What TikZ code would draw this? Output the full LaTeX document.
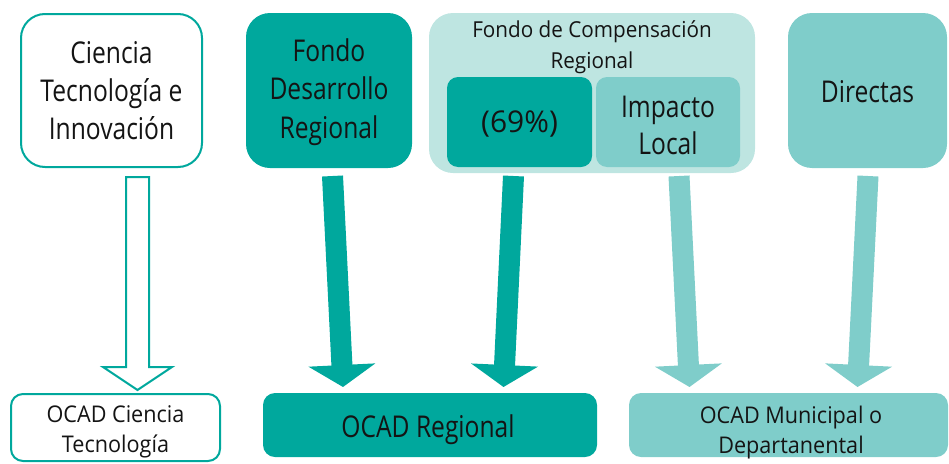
\documentclass[tikz,border=0pt]{standalone}
\usepackage{fontspec}
\usetikzlibrary{arrows.meta}
\newfontfamily\df[FakeStretch=0.82]{Open Sans}
\newfontfamily\dfs[FakeStretch=0.94]{Open Sans}
\newfontfamily\dfn{Open Sans}
\definecolor{teal1}{RGB}{0,168,157}
\definecolor{teal2}{RGB}{127,205,202}
\definecolor{teal3}{RGB}{190,229,225}
\definecolor{txt}{RGB}{20,20,20}
\begin{document}
\begin{tikzpicture}[x=1pt,y=-1pt,
  box/.style={rounded corners=24pt, inner sep=0pt, align=center, text=txt, font=\df\fontsize{30}{38}\selectfont},
  lowbox/.style={rounded corners=12pt, inner sep=0pt, align=center, text=txt},
  lbl/.style={align=center, text=txt, inner sep=0pt},
  bigarrow/.style={line width=21pt, -{Triangle[width=66pt,length=22pt]}},
  hollow/.style={draw=teal1, line width=2pt, fill=white, line join=miter}
]
\useasboundingbox (0,0) rectangle (949,463);
% top boxes
\node[box, draw=teal1, line width=2pt, fill=white, minimum width=181pt, minimum height=153pt] (cti) at (111.5,90.5) {Ciencia\\Tecnología e\\Innovación};
\node[box, fill=teal1, minimum width=166pt, minimum height=155pt] (fdr) at (329,90.5) {};
\node[lbl, font=\df\fontsize{30}{38.5}\selectfont] (fdrt) at (329,92) {Fondo\\Desarrollo\\Regional};
\node[box, fill=teal3, minimum width=326pt, minimum height=160pt] (fcr) at (592,93) {};
\node[lbl, font=\dfs\fontsize{22}{31}\selectfont] (fcrt) at (592,47) {Fondo de Compensación\\Regional};
\node[box, rounded corners=11pt, fill=teal1, minimum width=145pt, minimum height=90pt] (p69) at (519.5,122) {};
\node[lbl, font=\dfn\fontsize{30}{38}\selectfont] (p69t) at (519.5,124) {(69\%)};
\node[box, rounded corners=11pt, fill=teal2, minimum width=144pt, minimum height=90pt] (imp) at (668,122) {};
\node[lbl, font=\df\fontsize{30}{37}\selectfont] (impt) at (668,125.5) {Impacto\\Local};
\node[box, fill=teal2, minimum width=159pt, minimum height=155pt] (dir) at (867.5,90.5) {};
\node[lbl, font=\df\fontsize{30}{38}\selectfont] (dirt) at (867.5,91.5) {Directas};
% bottom boxes
\node[lowbox, draw=teal1, line width=2pt, fill=white, minimum width=209pt, minimum height=67pt] (octi) at (115.5,427.5) {};
\node[lbl, font=\dfs\fontsize{23}{30}\selectfont] (octit) at (115.5,432) {OCAD Ciencia\\Tecnología};
\node[lowbox, fill=teal1, minimum width=334pt, minimum height=64pt] (oreg) at (430,425) {};
\node[lbl, font=\df\fontsize{30}{36}\selectfont] (oregt) at (428,430) {OCAD Regional};
\node[lowbox, fill=teal2, minimum width=319pt, minimum height=64pt] (omun) at (788.5,425) {};
\node[lbl, font=\dfs\fontsize{23}{30}\selectfont] (omunt) at (791,432.5) {OCAD Municipal o\\Departanental};
% arrow coordinates
\coordinate (h1) at (137.5,177);
\coordinate (s2) at (332.5,176); \coordinate (e2) at (343,387);
\coordinate (s3) at (513.5,176); \coordinate (e3) at (503.5,387);
\coordinate (s4) at (679,176);   \coordinate (e4) at (689.5,387);
\coordinate (s5) at (868,176);   \coordinate (e5) at (857.5,387);
% hollow arrow
\draw[hollow, shift={(h1)}] (-11.5,0) -- (11.5,0) -- (11.5,190) -- (34.5,190) -- (0,213) -- (-34.5,190) -- (-11.5,190) -- cycle;
% solid arrows
\draw[bigarrow, teal1] (s2) -- (e2);
\draw[bigarrow, teal1] (s3) -- (e3);
\draw[bigarrow, teal2] (s4) -- (e4);
\draw[bigarrow, teal2] (s5) -- (e5);
\end{tikzpicture}
\end{document}
